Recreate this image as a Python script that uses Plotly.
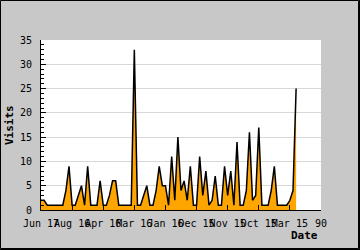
import plotly.graph_objects as go

visits = [2, 2, 1, 1, 1, 1, 1, 1, 4, 9,
          1, 1, 3, 5, 1, 9, 1, 1, 1, 6,
          1, 1, 3, 6, 6, 1, 1, 1, 1, 1,
          33, 1, 1, 3, 5, 1, 1, 4, 9, 5,
          5, 1, 11, 2, 15, 4, 6, 2, 9, 1,
          1, 11, 3, 8, 1, 2, 7, 1, 1, 9,
          3, 8, 1, 14, 1, 1, 4, 16, 2, 3,
          17, 1, 1, 1, 4, 9, 1, 1, 1, 1,
          2, 4, 25]
index = list(range(len(visits)))
tick_positions = [0, 10, 20, 30, 40, 50, 60, 70, 80, 90]
tick_labels = ["Jun 17", "Aug 16", "Apr 16", "Mar 16", "Jan 16",
               "Dec 15", "Nov 15", "Oct 15", "Mar 15", "90"]

W, H = 360, 250
L, R, T, B = 41, 39, 40, 40
PW, PH = W - L - R, H - T - B

def px(x):
    return (x - L) / PW

def py(y):
    return (H - B - y) / PH

mono = "DejaVu Sans Mono"

fig = go.Figure()
fig.add_trace(go.Scatter(
    x=index, y=visits, mode="lines",
    line=dict(color="black", width=1.5),
    fill="tozeroy", fillcolor="#ffa500",
    hoverinfo="skip", showlegend=False,
))

fig.update_layout(
    width=W, height=H,
    margin=dict(l=L, r=R, t=T, b=B, pad=0),
    paper_bgcolor="#c8c8c8",
    plot_bgcolor="white",
    font=dict(family=mono, size=10, color="black"),
    xaxis=dict(
        range=[0, 90], tickmode="array", tickvals=tick_positions, ticktext=tick_labels,
        tickangle=0,
        ticks="inside", ticklen=5, tickcolor="black", tickwidth=1,
        showline=True, linecolor="black", linewidth=1,
        showgrid=False, zeroline=False, ticklabelstandoff=4,
        tickfont=dict(family=mono, size=10),
    ),
    yaxis=dict(
        range=[0, 35], dtick=5, tick0=0,
        ticks="inside", ticklen=5, tickcolor="black", tickwidth=1,
        minor=dict(ticks="inside", dtick=1, ticklen=3, tickcolor="black", showgrid=False),
        showline=True, linecolor="black", linewidth=1,
        showgrid=True, gridcolor="#d8d8d8", gridwidth=1,
        zeroline=False, ticklabelstandoff=6,
        tickfont=dict(family=mono, size=10),
    ),
    annotations=[
        dict(text="<b>Visits</b>", textangle=-90, xref="paper", yref="paper",
             x=px(9), y=py(125), xanchor="center", yanchor="middle", showarrow=False,
             font=dict(family=mono, size=11)),
        dict(text="<b>Date</b>", xref="paper", yref="paper",
             x=px(320), y=py(236), xanchor="right", yanchor="middle", showarrow=False,
             font=dict(family=mono, size=11)),
    ],
    shapes=[
        dict(type="rect", xref="paper", yref="paper",
             x0=px(0.5), x1=px(358.5), y0=py(248.5), y1=py(0.5),
             line=dict(color="black", width=1), fillcolor="rgba(0,0,0,0)", layer="above"),
        dict(type="line", xref="paper", yref="paper",
             x0=px(359.5), x1=px(359.5), y0=py(250), y1=py(0),
             line=dict(color="black", width=1)),
        dict(type="line", xref="paper", yref="paper",
             x0=px(0), x1=px(360), y0=py(249.5), y1=py(249.5),
             line=dict(color="black", width=1)),
    ],
)

fig.write_html("out.html")
